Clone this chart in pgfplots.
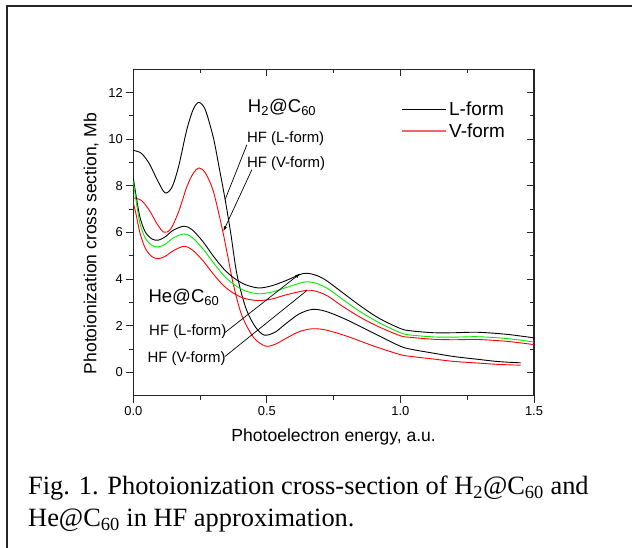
\documentclass[border=0pt]{standalone}
\usepackage{fontspec}
\setmainfont{Liberation Sans}
\newfontfamily\capfont{Liberation Serif}
\usepackage{pgfplots}
\pgfplotsset{compat=1.18}
\usetikzlibrary{arrows.meta}

\definecolor{hgreen}{RGB}{0,235,0}
\definecolor{legred}{RGB}{240,105,105}

\newcommand\annbig{\fontsize{18.6}{21}\selectfont}
\newcommand\annsmall{\fontsize{15}{17}\selectfont}

\pgfplotsset{
  frame axis/.style={
    at={(133.3bp,152.3bp)}, anchor=south west,
    scale only axis, width=400.7bp, height=326.4bp,
    xmin=0, xmax=1.5, ymin=-1, ymax=13,
    xtick={0,0.5,1,1.5}, ytick={0,2,...,12},
    minor x tick num=1, minor y tick num=1,
    axis line style={line width=1.1bp, black!85},
    every tick/.style={line width=1bp, black!85},
    major tick length=7bp, minor tick length=4bp,
  }
}

\begin{document}
\begin{tikzpicture}[x=1bp,y=1bp]
\useasboundingbox (0,0) rectangle (632,548);
\draw[line width=2bp, black!85] (7,-2) -- (7,542) -- (634,542);

% mirrored ticks on top and right point inwards
\begin{axis}[frame axis, tick align=inside, xtick pos=right, ytick pos=right,
  xticklabels={}, yticklabels={}]
\end{axis}

\begin{axis}[frame axis, tick align=outside, xtick pos=left, ytick pos=left,
  /pgf/number format/assume math mode=true,
  every tick label/.append style={font=\fontsize{13}{15}\selectfont},
  xticklabel style={/pgf/number format/.cd, fixed, fixed zerofill, precision=1},
  xlabel={Photoelectron energy, a.u.},
  ylabel={Photoionization cross section, Mb},
  label style={font=\fontsize{17.6}{20}\selectfont},
  xlabel style={at={(axis description cs:0.5,-0.127)}, anchor=center},
  ylabel style={at={(axis description cs:-0.105,0.466)}, anchor=center, rotate=0},
  legend style={draw=none, fill=none, at={(0.668,0.908)}, anchor=north west,
    font=\fontsize{19}{21}\selectfont, row sep=3bp, inner sep=0pt,
    nodes={inner sep=2bp}},
  legend cell align=left,
  legend image code/.code={\draw[#1] (0bp,0bp) -- (44bp,0bp);},
]
% H2@C60, L-form
\addplot[black, line width=0.9bp, smooth, forget plot] coordinates {
(0.000,9.52)(0.030,9.40)(0.060,8.95)(0.090,8.25)(0.119,7.70)(0.145,7.95)
(0.170,8.85)(0.200,10.40)(0.225,11.30)(0.246,11.58)(0.270,11.25)(0.300,10.05)
(0.322,8.75)(0.344,7.40)(0.365,5.95)(0.388,4.20)(0.420,2.80)(0.455,1.98)
(0.490,1.60)(0.530,1.72)(0.570,2.08)(0.620,2.50)(0.669,2.70)(0.720,2.62)
(0.800,2.25)(0.900,1.68)(1.000,1.12)(1.050,0.97)(1.125,0.82)(1.200,0.68)
(1.290,0.56)(1.370,0.46)(1.450,0.41)};
% H2@C60, V-form
\addplot[red, line width=0.9bp, smooth, forget plot] coordinates {
(0.000,7.48)(0.030,7.38)(0.060,6.95)(0.090,6.35)(0.115,6.01)(0.140,6.15)
(0.170,6.90)(0.200,7.95)(0.225,8.55)(0.246,8.77)(0.270,8.55)(0.300,7.75)
(0.334,6.10)(0.355,4.90)(0.375,3.75)(0.406,2.45)(0.450,1.50)(0.494,1.13)
(0.530,1.20)(0.570,1.45)(0.620,1.74)(0.669,1.87)(0.720,1.82)(0.800,1.55)
(0.900,1.13)(1.000,0.76)(1.050,0.67)(1.125,0.57)(1.200,0.47)(1.290,0.40)
(1.370,0.34)(1.450,0.31)};
% He@C60, L-form
\addplot[black, line width=0.9bp, smooth, forget plot] coordinates {
(0.000,8.34)(0.010,7.60)(0.025,6.65)(0.045,6.02)(0.070,5.72)(0.094,5.67)
(0.120,5.82)(0.150,6.10)(0.190,6.27)(0.220,6.12)(0.260,5.62)(0.300,4.98)
(0.340,4.42)(0.380,4.02)(0.420,3.76)(0.470,3.62)(0.520,3.72)(0.570,3.93)
(0.637,4.24)(0.680,4.18)(0.720,3.96)(0.780,3.45)(0.850,2.85)(0.920,2.32)
(1.000,1.88)(1.040,1.78)(1.125,1.70)(1.200,1.70)(1.290,1.72)(1.400,1.63)
(1.500,1.48)};
% He@C60, green
\addplot[hgreen, line width=0.9bp, smooth, forget plot] coordinates {
(0.000,8.20)(0.010,7.40)(0.025,6.38)(0.045,5.76)(0.070,5.44)(0.094,5.38)
(0.120,5.50)(0.150,5.77)(0.190,5.94)(0.220,5.79)(0.260,5.31)(0.300,4.70)
(0.340,4.14)(0.380,3.74)(0.420,3.49)(0.470,3.37)(0.520,3.45)(0.570,3.63)
(0.644,3.88)(0.690,3.80)(0.730,3.58)(0.780,3.16)(0.850,2.60)(0.920,2.13)
(1.000,1.70)(1.040,1.60)(1.125,1.52)(1.200,1.51)(1.290,1.53)(1.400,1.45)
(1.500,1.30)};
% He@C60, V-form
\addplot[red, line width=0.9bp, smooth, forget plot] coordinates {
(0.000,7.28)(0.010,6.80)(0.025,5.98)(0.045,5.32)(0.070,4.96)(0.094,4.88)
(0.120,4.98)(0.150,5.22)(0.190,5.41)(0.220,5.26)(0.260,4.80)(0.300,4.21)
(0.340,3.70)(0.380,3.36)(0.420,3.16)(0.470,3.08)(0.520,3.15)(0.570,3.32)
(0.650,3.52)(0.690,3.46)(0.730,3.26)(0.780,2.86)(0.850,2.36)(0.920,1.95)
(1.000,1.57)(1.040,1.50)(1.125,1.42)(1.200,1.40)(1.290,1.41)(1.400,1.33)
(1.500,1.19)};

\addlegendimage{black, line width=0.8bp}
\addlegendentry{L-form}
\addlegendimage{legred, line width=2bp}
\addlegendentry{V-form}

% annotations
\node[anchor=west, inner sep=0, font=\annbig] at (axis cs:0.4286,11.35) {H\textsubscript{2}@C\textsubscript{60}};
\node[anchor=west, inner sep=0, font=\annsmall] at (axis cs:0.425,10.02) {HF (L-form)};
\node[anchor=west, inner sep=0, font=\annsmall] at (axis cs:0.425,8.94) {HF (V-form)};
\draw[line width=0.7bp] (axis cs:0.425,9.76) -- (axis cs:0.3436,7.41);
\draw[line width=0.7bp, -{Latex[length=5bp,width=3.5bp]}] (axis cs:0.4436,8.69) -- (axis cs:0.337,6.05);

\node[anchor=west, inner sep=0, font=\annbig] at (axis cs:0.0562,3.21) {He@C\textsubscript{60}};
\node[anchor=west, inner sep=0, font=\annsmall] at (axis cs:0.0588,1.756) {HF (L-form)};
\node[anchor=west, inner sep=0, font=\annsmall] at (axis cs:0.0525,0.60) {HF (V-form)};
\draw[line width=0.7bp, -{Latex[length=5bp,width=3.5bp]}] (axis cs:0.3436,1.713) -- (axis cs:0.6246,4.24);
\draw[line width=0.7bp] (axis cs:0.3436,0.685) -- (axis cs:0.6497,3.51);
\end{axis}

\node[anchor=base west, inner sep=0, font=\capfont\fontsize{26.5}{30}\selectfont] at (28,53)
  {Fig. 1. Photoionization cross-section of H\textsubscript{2}@C\textsubscript{60} and};
\node[anchor=base west, inner sep=0, font=\capfont\fontsize{26.5}{30}\selectfont] at (28,21)
  {He@C\textsubscript{60} in HF approximation.};
\end{tikzpicture}
\end{document}
